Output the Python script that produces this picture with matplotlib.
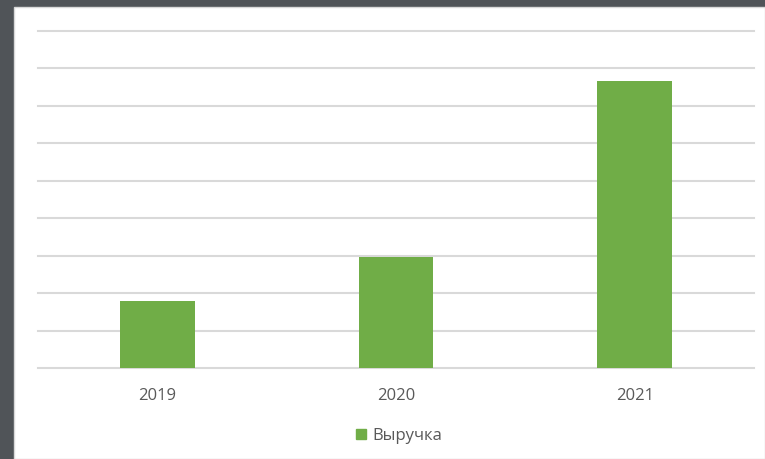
import numpy as np
import matplotlib.pyplot as plt
from matplotlib.patches import Rectangle, Patch

plt.rcParams['font.family'] = ['Open Sans', 'DejaVu Sans']

years = ['2019', '2020', '2021']
revenue = [1.80, 2.96, 7.67]
series_name = 'Выручка'

fig = plt.figure(figsize=(7.65, 4.59), dpi=100)
fig.patch.set_facecolor('#505458')
# white chart area inside the dark frame
frame = Rectangle((14 / 765, 0), 1 - 14 / 765, 1 - 7 / 459,
                  transform=fig.transFigure, facecolor='white',
                  edgecolor='#d9d9d9', linewidth=1.0, zorder=-10)
fig.add_artist(frame)

ax = fig.add_axes([38 / 765, 1 - 368 / 459, (754 - 38) / 765, (368 - 31) / 459])
ax.set_facecolor('none')
ax.set_zorder(5)

x = np.arange(len(years))
ax.bar(x, revenue, width=0.314, color='#70ad47', zorder=3)

ax.set_xlim(-0.5, len(years) - 0.5)
ax.set_ylim(0, 9)
ax.set_yticks(np.arange(0, 10))
ax.yaxis.grid(True, color='#d9d9d9', linewidth=1.5)
for gl in ax.get_ygridlines():
    gl.set_clip_on(False)
ax.set_axisbelow(True)
ax.tick_params(axis='y', left=False, labelleft=False)
ax.tick_params(axis='x', bottom=False, labelsize=12, colors='#595959', pad=11)
ax.set_xticks(x)
ax.set_xticklabels(years)
for s in ax.spines.values():
    s.set_visible(False)

fig.legend(handles=[Patch(color='#70ad47', label=series_name)],
           loc='center', bbox_to_anchor=(399 / 765, 1 - 436 / 459),
           frameon=False, fontsize=12, handlelength=0.6, handleheight=0.6,
           handletextpad=0.4, labelcolor='#595959')

fig.savefig('out.png', dpi=100, facecolor=fig.get_facecolor())
